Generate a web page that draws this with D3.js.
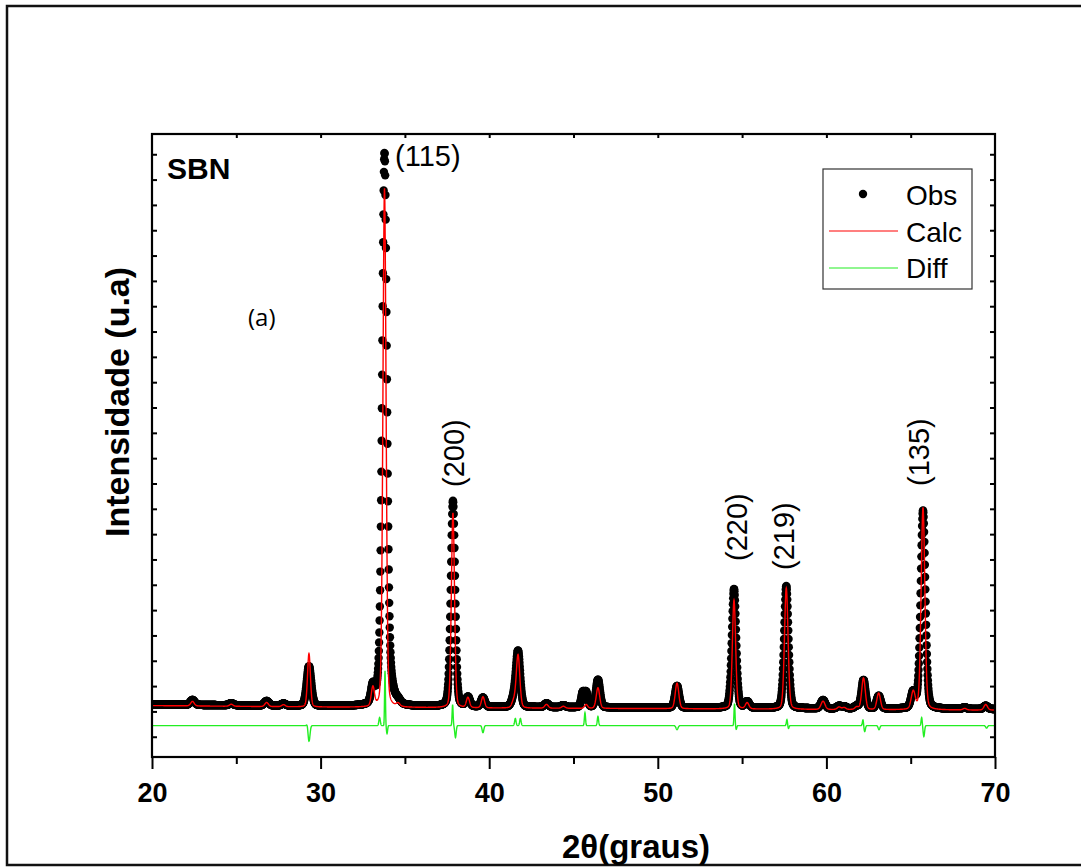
<!DOCTYPE html>
<html>
<head>
<meta charset="utf-8">
<script src="https://cdn.jsdelivr.net/npm/d3@7"></script>
<style>
  body { margin: 0; background: #fff; }
  svg { display: block; font-family: "Liberation Sans", Arial, sans-serif; }
</style>
</head>
<body>
<div id="chart"></div>
<script>
// reflections (2theta, heights in counts above background, FWHM in degrees)
var peakPos    = [22.4, 24.7, 26.8, 27.8, 29.31, 33.1, 33.79, 33.85, 34.6, 37.85, 38.74, 39.63, 41.45, 41.71, 43.4, 44.4, 45.55, 45.75, 46.45, 51.14, 54.52, 55.3, 57.62, 59.8, 60.75, 61.05, 61.8, 62.2, 63.1, 65.15, 65.73, 68.2, 69.45];
var obsHeight  = [200, 80, 180, 80, 1560, 650, 20400, 1500, 120, 8130, 360, 360, 300, 2190, 150, 80, 550, 550, 1090, 860, 4700, 240, 4830, 330, 100, 80, 100, 1130, 500, 620, 7830, 60, 130];
var calcHeight = [180, 80, 160, 80, 2110, 750, 20500, 0, 120, 7700, 400, 440, 250, 2100, 150, 80, 0, 150, 815, 1010, 4300, 240, 4790, 330, 100, 80, 100, 1250, 650, 700, 7990, 60, 220];
var obsWidth   = [0.3, 0.3, 0.3, 0.3, 0.32, 0.26, 0.32, 0.7, 0.3, 0.3, 0.26, 0.26, 0.3, 0.3, 0.3, 0.3, 0.22, 0.22, 0.28, 0.28, 0.3, 0.28, 0.3, 0.3, 0.3, 0.3, 0.3, 0.28, 0.28, 0.3, 0.33, 0.3, 0.3];
var calcWidth  = [0.25, 0.25, 0.25, 0.25, 0.2, 0.22, 0.22, 0.7, 0.25, 0.22, 0.22, 0.22, 0.25, 0.25, 0.25, 0.25, 0.22, 0.22, 0.24, 0.25, 0.23, 0.25, 0.25, 0.28, 0.25, 0.25, 0.25, 0.25, 0.25, 0.28, 0.26, 0.25, 0.25];

// background (calc), obs sits a little above it
var bgPos   = [20, 30, 40, 50, 60, 70];
var bgLevel = [1230, 1170, 1130, 1110, 1070, 1050];
var obsLift = 40;
var obsStep = 0.015;

// difference curve features (Obs - Calc, shifted down)
var diffOffset = 440;
var diffPos   = [29.22, 29.31, 33.5, 33.82, 33.94, 37.83, 38.0, 39.63, 41.55, 41.85, 45.68, 46.45, 51.14, 54.55, 54.65, 57.66, 57.75, 62.17, 62.27, 63.12, 65.65, 65.78, 69.5];
var diffAmp   = [120, -630, 320, 2170, -320, 830, -470, -280, 280, 280, 510, 360, -160, 870, -150, 240, -120, 240, -240, -160, 320, -430, -100];
var diffWidth = [0.1, 0.14, 0.1, 0.06, 0.08, 0.07, 0.1, 0.12, 0.1, 0.1, 0.08, 0.09, 0.14, 0.07, 0.08, 0.08, 0.08, 0.08, 0.1, 0.12, 0.08, 0.1, 0.12];

var xMajor = [20, 30, 40, 50, 60, 70];
var xMinor = [25, 35, 45, 55, 65];
var xTop   = [25, 30, 35, 40, 45, 50, 55, 60, 65];
var yTicks = d3.range(0, 24000, 1000);

var hkl = [
  {t: "(115)", pos: 33.79, rot: false},
  {t: "(200)", pos: 37.85, rot: true},
  {t: "(220)", pos: 54.52, rot: true},
  {t: "(219)", pos: 57.62, rot: true},
  {t: "(135)", pos: 65.73, rot: true}
];

var W = 1081, H = 868;
var L = 152, R = 995, T = 134, B = 757;

var x = d3.scaleLinear().domain([20, 70]).range([L, R]);
var y = d3.scaleLinear().domain([-800, 23800]).range([B, T]);
var bg = d3.scaleLinear().domain(bgPos).range(bgLevel);

var eta = 0.2;
function pv(t, c, h, w) {
    var d = (t - c) / w;
    return h * (eta / (1 + 4 * d * d) + (1 - eta) * Math.exp(-4 * Math.LN2 * d * d));
}
function profile(t, heights, widths) {
    var s = 0;
    for (var i = 0; i < peakPos.length; i++) {
        if (heights[i] > 0) s += pv(t, peakPos[i], heights[i], widths[i]);
    }
    return s;
}

var obs = d3.range(20, 70.0001, obsStep).map(function (t) {
    return {x: t, y: bg(t) + obsLift + profile(t, obsHeight, obsWidth)};
});
var calc = d3.range(20, 70.0001, 0.01).map(function (t) {
    return {x: t, y: bg(t) + profile(t, calcHeight, calcWidth)};
});
var diff = d3.range(20, 70.0001, 0.01).map(function (t) {
    var s = diffOffset;
    for (var i = 0; i < diffPos.length; i++) {
        var d = (t - diffPos[i]) / diffWidth[i];
        s += diffAmp[i] * Math.exp(-4 * Math.LN2 * d * d);
    }
    return {x: t, y: s};
});

var svg = d3.select("#chart").append("svg")
    .attr("width", W)
    .attr("height", H);

// outer frame
svg.append("path")
    .attr("d", "M" + W + ",6H7V865H" + W)
    .attr("fill", "none")
    .attr("stroke", "#111")
    .attr("stroke-width", 2.5);

svg.append("clipPath").attr("id", "plotclip")
    .append("rect")
    .attr("x", L).attr("y", T).attr("width", R - L).attr("height", B - T);

var plot = svg.append("g").attr("clip-path", "url(#plotclip)");

plot.append("g").selectAll("circle")
    .data(obs)
    .enter().append("circle")
    .attr("cx", function (d) { return x(d.x); })
    .attr("cy", function (d) { return y(d.y); })
    .attr("r", 4.2)
    .attr("fill", "#000");

var line = d3.line()
    .x(function (d) { return x(d.x); })
    .y(function (d) { return y(d.y); });

plot.append("path")
    .attr("d", line(calc))
    .attr("fill", "none")
    .attr("stroke", "#ff0000")
    .attr("stroke-width", 1.4);

plot.append("path")
    .attr("d", line(diff))
    .attr("fill", "none")
    .attr("stroke", "#22ee22")
    .attr("stroke-width", 1.4);

// axes
var bottom = svg.append("g")
    .attr("transform", "translate(0," + B + ")")
    .call(d3.axisBottom(x).tickValues(xMajor).tickSize(12).tickPadding(14).tickFormat(d3.format("d")));
svg.append("g")
    .attr("transform", "translate(0," + B + ")")
    .call(d3.axisBottom(x).tickValues(xMinor).tickSize(7).tickFormat(""));
svg.append("g")
    .attr("transform", "translate(0," + T + ")")
    .call(d3.axisTop(x).tickValues(xTop).tickSize(-4).tickFormat(""));
svg.append("g")
    .attr("transform", "translate(" + L + ",0)")
    .call(d3.axisLeft(y).tickValues(yTicks).tickSize(-5).tickFormat(""));
svg.append("g")
    .attr("transform", "translate(" + R + ",0)")
    .call(d3.axisRight(y).tickValues(yTicks).tickSize(-5).tickFormat(""));

svg.selectAll(".domain").remove();
svg.selectAll(".tick line").attr("stroke", "#000").attr("stroke-width", 2);
bottom.selectAll("text")
    .attr("fill", "#000")
    .style("font-size", "27px")
    .style("font-weight", "bold")
    .style("font-family", "'Liberation Sans', Arial, sans-serif");

svg.append("rect")
    .attr("x", L).attr("y", T)
    .attr("width", R - L).attr("height", B - T)
    .attr("fill", "none")
    .attr("stroke", "#000")
    .attr("stroke-width", 2.2);

// axis titles
svg.append("text")
    .attr("x", 636).attr("y", 858)
    .attr("text-anchor", "middle")
    .style("font-size", "33px").style("font-weight", "bold")
    .text("2θ(graus)");

svg.append("text")
    .attr("transform", "translate(129,402) rotate(-90)")
    .attr("text-anchor", "middle")
    .style("font-size", "34px").style("font-weight", "bold")
    .text("Intensidade (u.a)");

// annotations
svg.append("text")
    .attr("x", 167).attr("y", 179)
    .style("font-size", "30px").style("font-weight", "bold")
    .text("SBN");

svg.append("text")
    .attr("x", 248).attr("y", 326)
    .style("font-size", "24px")
    .style("font-family", "'Open Sans', sans-serif")
    .text("(a)");

var hklPx = {"(115)": [395, 166], "(200)": [464, 487], "(220)": [747, 561], "(219)": [794, 570], "(135)": [929, 486]};
hkl.forEach(function (h) {
    var p = hklPx[h.t];
    var t = svg.append("text")
        .style("font-size", "29px")
        .text(h.t);
    if (h.rot) {
        t.attr("transform", "translate(" + p[0] + "," + p[1] + ") rotate(-90)");
    } else {
        t.attr("x", p[0]).attr("y", p[1]);
    }
});

// legend
var lg = svg.append("g");
lg.append("rect")
    .attr("x", 823).attr("y", 169).attr("width", 149).attr("height", 120)
    .attr("fill", "#fff").attr("stroke", "#333").attr("stroke-width", 1.2);
lg.append("circle").attr("cx", 863).attr("cy", 194).attr("r", 4.2).attr("fill", "#000");
lg.append("line").attr("x1", 829).attr("x2", 898).attr("y1", 231).attr("y2", 231)
    .attr("stroke", "#ff0000").attr("stroke-width", 1.2);
lg.append("line").attr("x1", 829).attr("x2", 898).attr("y1", 268).attr("y2", 268)
    .attr("stroke", "#22ee22").attr("stroke-width", 1.2);
[["Obs", 205], ["Calc", 242], ["Diff", 278]].forEach(function (d) {
    lg.append("text").attr("x", 906).attr("y", d[1])
        .style("font-size", "28px")
        .text(d[0]);
});
</script>
</body>
</html>
